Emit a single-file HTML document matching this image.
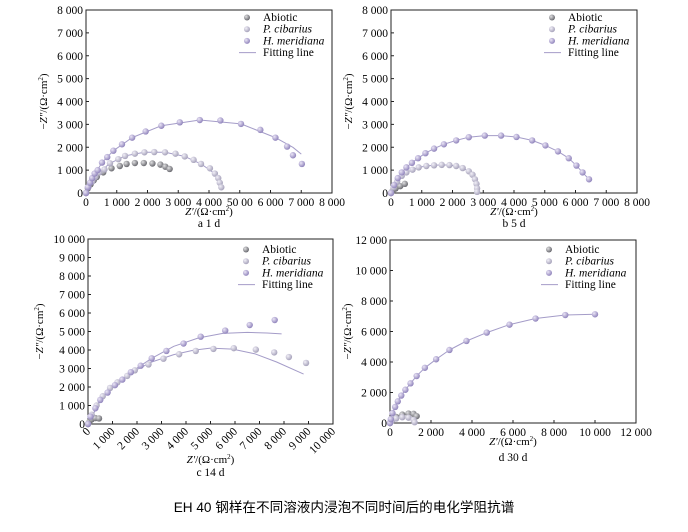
<!DOCTYPE html>
<html><head><meta charset="utf-8">
<style>
body{margin:0;background:#fff;width:688px;height:527px;overflow:hidden}
svg{font-family:"Liberation Serif",serif;}
</style></head><body>
<svg id="s" width="688" height="527" viewBox="0 0 688 527" xmlns="http://www.w3.org/2000/svg">
<defs>
<radialGradient id="gA" cx="35%" cy="35%" r="65%"><stop offset="0" stop-color="#e0e0e2"/><stop offset="1" stop-color="#6c6c72"/></radialGradient>
<radialGradient id="gP" cx="35%" cy="35%" r="65%"><stop offset="0" stop-color="#f2f0f8"/><stop offset="1" stop-color="#a8a4bc"/></radialGradient>
<radialGradient id="gH" cx="35%" cy="35%" r="65%"><stop offset="0" stop-color="#ebe6f6"/><stop offset="1" stop-color="#9286bd"/></radialGradient>
</defs>
<text x="344" y="512" text-anchor="middle" font-family="Liberation Sans, Noto Sans CJK SC, sans-serif" font-size="13.6">EH 40 钢样在不同溶液内浸泡不同时间后的电化学阻抗谱</text>
</svg>
<script>
// ---- data (Z' in Ω·cm², -Z'' in Ω·cm²) ----
const aAbioticX=[0,60,150,250,350,560,830,1100,1320,1590,1880,2160,2420,2580,2720];
const aAbioticY=[0,200,380,550,700,900,1080,1180,1270,1310,1310,1290,1240,1150,1050];
const aPcibX=[0,80,200,300,430,600,780,1050,1270,1590,1900,2220,2570,2910,3210,3500,3740,4030,4190,4300,4350,4400];
const aPcibY=[0,250,500,700,900,1030,1300,1480,1620,1720,1780,1790,1780,1720,1600,1450,1270,1080,850,650,450,250];
const aHmerX=[0,60,130,200,280,380,520,690,890,1170,1500,1940,2450,3050,3700,4370,5040,5670,6160,6540,6730,7020];
const aHmerY=[0,250,450,650,850,1000,1330,1570,1850,2130,2420,2690,2940,3090,3190,3170,3020,2760,2420,2030,1650,1270];
const aFitPX=[0,200,430,780,1270,1900,2570,3210,3740,4190,4400];
const aFitPY=[0,500,900,1300,1620,1780,1780,1600,1270,850,250];
const aFitHX=[0,200,520,890,1500,2450,3700,5040,6160,6730,7000];
const aFitHY=[0,650,1330,1850,2420,2940,3190,3020,2420,2000,1700];

const bAbioticX=[0,50,150,300,450];
const bAbioticY=[0,100,200,300,400];
const bPcibX=[0,80,200,350,500,700,900,1150,1400,1650,1900,2120,2330,2530,2650,2730,2780,2800,2800];
const bPcibY=[0,250,500,750,900,1020,1120,1180,1210,1230,1220,1180,1090,950,800,600,400,200,50];
const bHmerX=[0,100,220,350,500,680,880,1120,1400,1720,2120,2530,3050,3580,4080,4590,5020,5430,5780,6030,6230,6440];
const bHmerY=[0,350,650,900,1120,1320,1520,1740,1940,2130,2300,2440,2510,2510,2450,2300,2080,1820,1520,1200,900,600];
const bFitPX=bPcibX, bFitPY=bPcibY, bFitHX=bHmerX, bFitHY=bHmerY;

const cAbioticX=[0,50,150,300,450];
const cAbioticY=[0,100,250,320,300];
const cPcibX=[0,150,350,600,900,1200,1600,1910,2470,3080,3720,4400,5120,5950,6850,7600,8200,8900];
const cPcibY=[0,500,1000,1500,1950,2250,2600,2900,3220,3530,3770,3950,4060,4100,4020,3870,3620,3300];
const cHmerX=[0,100,300,500,800,1100,1400,1750,2150,2600,3200,3900,4600,5600,6600,7620];
const cHmerY=[0,400,850,1300,1700,2100,2400,2800,3150,3550,3950,4350,4720,5050,5350,5620];
const cFitPX=[0,600,1200,1900,2600,3500,4300,5000,5900,6800,7700,8800];
const cFitPY=[0,1500,2250,2880,3350,3750,3990,4100,4050,3800,3350,2700];
const cFitHX=[0,500,1100,1750,2600,3500,4500,5500,6500,7300,7900];
const cFitHY=[0,1300,2100,2800,3550,4200,4650,4900,4950,4920,4870];

const dAbioticX=[0,100,300,600,900,1150,1300];
const dAbioticY=[0,200,400,550,620,600,450];
const dPcibX=[0,100,300,600,900,1150,1200];
const dPcibY=[0,150,300,380,350,200,50];
const dHmerX=[0,40,120,250,380,550,750,1000,1300,1700,2250,2900,3730,4720,5830,7100,8550,10000];
const dHmerY=[0,250,650,1050,1420,1800,2180,2600,3080,3620,4180,4790,5380,5930,6450,6850,7080,7130];
const dFitPX=dAbioticX, dFitPY=dAbioticY, dFitHX=dHmerX, dFitHY=dHmerY;

const charts=[
 {id:'a',L:86,R:332,T:10,B:193,xmax:8000,xstep:1000,ymax:8000,ystep:1000,rot:false,sub:'a  1 d',ytx:47,xt:215,st:227,lx:247,ly:21,
  xLabels:['0','1 000','2 000','3 000','4 000','50 00','6 000','7 000','8 000'],
  ab:[aAbioticX,aAbioticY],pc:[aPcibX,aPcibY],hm:[aHmerX,aHmerY],fits:[[aFitPX,aFitPY],[aFitHX,aFitHY]]},
 {id:'b',L:391,R:637,T:10,B:193,xmax:8000,xstep:1000,ymax:8000,ystep:1000,rot:false,sub:'b  5 d',ytx:352,xt:215,st:227,lx:552,ly:21,
  xLabels:['0','1 000','2 000','3 000','4 000','5 000','6 000','7 000','8 000'],
  ab:[bAbioticX,bAbioticY],pc:[bPcibX,bPcibY],hm:[bHmerX,bHmerY],fits:[[bFitPX,bFitPY],[bFitHX,bFitHY]]},
 {id:'c',L:88,R:333,T:239,B:424,xmax:10000,xstep:1000,ymax:10000,ystep:1000,rot:true,sub:'c  14 d',ytx:43,xt:463,st:476,lx:246,ly:253,
  xLabels:['0','1 000','2 000','3 000','4 000','5 000','6 000','7 000','8 000','9 000','10 000'],
  ab:[cAbioticX,cAbioticY],pc:[cPcibX,cPcibY],hm:[cHmerX,cHmerY],fits:[[cFitPX,cFitPY],[cFitHX,cFitHY]]},
 {id:'d',L:390,R:636,T:240,B:423,xmax:12000,xstep:2000,ymax:12000,ystep:2000,rot:false,sub:'d  30 d',ytx:351,xt:445,st:461,lx:549,ly:253,
  xLabels:['0','2 000','4 000','6 000','8 000','10 000','12 000'],
  ab:[dAbioticX,dAbioticY],pc:[dPcibX,dPcibY],hm:[dHmerX,dHmerY],fits:[[dFitPX,dFitPY],[dFitHX,dFitHY]]}
];
const NS='http://www.w3.org/2000/svg';
const svg=document.getElementById('s');
function mk(tag,attrs,parent,txt){const e=document.createElementNS(NS,tag);for(const k in attrs)e.setAttribute(k,attrs[k]);if(txt!==undefined)e.textContent=txt;(parent||svg).appendChild(e);return e;}
function fmt(v){const s=String(v);return s.length>3?s.slice(0,s.length-3)+' '+s.slice(-3):s;}
charts.forEach(c=>{
 const g=mk('g',{});
 
 
 const sx=v=>c.L+(c.R-c.L)*v/c.xmax, sy=v=>c.B-(c.B-c.T)*v/c.ymax;
 const fr=mk('rect',{x:c.L,y:c.T,width:c.R-c.L,height:c.B-c.T,fill:'none',stroke:'#222','stroke-width':1},g);
 
 
 for(let v=0;v<=c.ymax;v+=c.ystep){
  const y=sy(v);
  mk('line',{x1:c.L,x2:c.L+3,y1:y,y2:y,stroke:'#222'},g);
  const t=mk('text',{x:c.L-3,y:y+4,'text-anchor':'end','font-size':11.5},g,fmt(v));
  
  
 }
 c.xLabels.forEach((lab,i)=>{
  const x=sx(i*c.xstep);
  mk('line',{x1:x,x2:x,y1:c.B,y2:c.B-3,stroke:'#222'},g);
  let t;
  if(c.rot){t=mk('text',{x:x+3,y:c.B+8,'text-anchor':'end','font-size':11.5,transform:`rotate(-45 ${x+3} ${c.B+8})`},g,lab);}
  else t=mk('text',{x:x,y:c.B+13,'text-anchor':'middle','font-size':11.5},g,lab);
  
  
 });
 const cx=(c.L+c.R)/2;
 const xt=mk('text',{x:cx,y:c.xt,'text-anchor':'middle','font-size':11},g);
 xt.innerHTML='<tspan font-style="italic">Z′</tspan>/(Ω·cm<tspan font-size="7" dy="-4">2</tspan><tspan dy="4">)</tspan>';
 
 
 const st=mk('text',{x:cx,y:c.st,'text-anchor':'middle','font-size':11.5},g,c.sub);
 
 
 const ym=(c.T+c.B)/2;
 const yt=mk('text',{x:c.ytx,y:ym,'text-anchor':'middle','font-size':11,transform:`rotate(-90 ${c.ytx} ${ym})`},g);
 yt.innerHTML='−<tspan font-style="italic">Z″</tspan>/(Ω·cm<tspan font-size="7" dy="-4">2</tspan><tspan dy="4">)</tspan>';
 
 
 c.fits.forEach(f=>{
  let d='';f[0].forEach((v,i)=>{d+=(i?'L':'M')+sx(v).toFixed(1)+' '+sy(f[1][i]).toFixed(1);});
  const p=mk('path',{d:d,fill:'none',stroke:'#a49cc8','stroke-width':1,'stroke-linejoin':'round'},g);
  
  
 });
 [[c.ab,'gA','abiotic-point'],[c.pc,'gP','p-cibarius-point'],[c.hm,'gH','h-meridiana-point']].forEach(s=>{
  s[0][0].forEach((v,i)=>{
   const m=mk('circle',{cx:sx(v),cy:sy(s[0][1][i]),r:3.2,fill:'url(#'+s[1]+')'},g);
   
   
  });
 });
 const lg=mk('g',{},g);
 
 
 [['Abiotic','gA',false],['P. cibarius','gP',true],['H. meridiana','gH',true]].forEach((e,i)=>{
  const y=c.ly+i*11.7;
  mk('circle',{cx:c.lx,cy:y-3.5,r:3,fill:'url(#'+e[1]+')'},lg);
  const t=mk('text',{x:c.lx+16,y:y,'font-size':11.5,'font-style':e[2]?'italic':'normal'},lg,e[0]);
  
  
 });
 const y4=c.ly+3*11.7;
 mk('line',{x1:c.lx-8,x2:c.lx+9,y1:y4-3.5,y2:y4-3.5,stroke:'#a49cc8'},lg);
 const t4=mk('text',{x:c.lx+16,y:y4,'font-size':11.5},lg,'Fitting line');
 
 
});
</script>
</body></html>
